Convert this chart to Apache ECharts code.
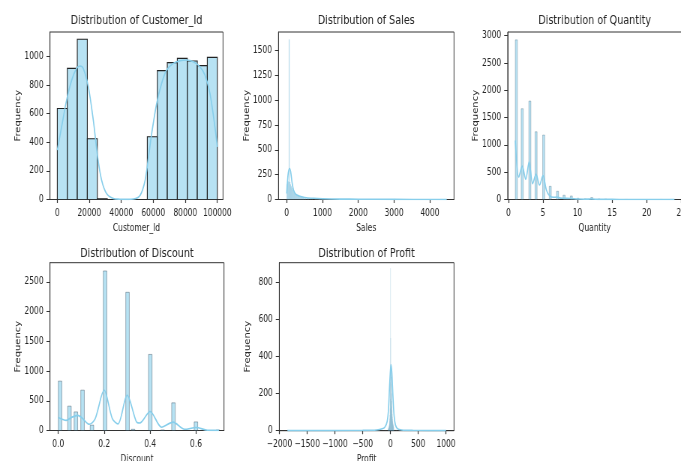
<!DOCTYPE html>
<html>
<head>
<meta charset="utf-8">
<script src="https://cdn.jsdelivr.net/npm/echarts@6/dist/echarts.min.js"></script>
<style>
  html, body { margin: 0; padding: 0; background: #fff; overflow: hidden; }
  #frame { width: 681px; height: 461px; overflow: hidden; position: relative; }
  #chart { height: 461px; transform-origin: 0 0; position: absolute; left: 0; top: 0; }
</style>
</head>
<body>
<div id="frame"><div id="chart"></div></div>
<script>
// ---- Customer_Id ----
const custBinWidth = 6250;
const custBinStart = [0, 6250, 12500, 18750, 25000, 31250, 37500, 43750, 50000, 56250, 62500, 68750, 75000, 81250, 87500, 93750];
const custCounts = [636, 916, 1119, 424, 5, 0, 0, 0, 0, 438, 900, 956, 986, 967, 935, 993];
const custKdeX = [0, 2700, 5800, 9000, 12100, 14200, 16200, 19400, 22500, 25200, 27700, 30800, 35000, 39000, 44000, 47600, 51800, 54900, 57000, 59000, 62100, 65200, 68300, 72500, 76700, 80800, 85000, 89200, 92300, 95400, 98500, 100000];
const custKdeY = [345, 508, 694, 834, 916, 932, 916, 787, 554, 298, 135, 42, 7, 2, 1, 3, 30, 135, 298, 462, 671, 811, 904, 951, 969, 974, 962, 927, 869, 741, 508, 368];
const custXTicks = [0, 20000, 40000, 60000, 80000, 100000];
const custYTicks = [0, 200, 400, 600, 800, 1000];

// ---- Sales ----
const salesBinWidth = 20;
const salesBinStart = [0, 20, 40, 60, 80, 100, 120, 140, 160, 180, 200, 220, 240, 260, 280, 300, 320, 340, 360, 380, 400, 420, 440, 460, 480, 520, 560, 600, 650, 700, 800, 900, 1000, 1200, 1500, 2000, 2500, 3000, 3500, 4400];
const salesCounts = [150, 170, 180, 1610, 175, 150, 130, 110, 95, 82, 72, 64, 57, 51, 46, 42, 38, 35, 32, 29, 27, 25, 23, 21, 19, 17, 15, 13, 11, 9, 7, 5, 4, 3, 2, 1, 1, 1, 1, 1];
const salesKdeX = [0, 20, 45, 80, 110, 150, 190, 250, 330, 420, 550, 750, 1000, 1500, 2000, 3000, 4000, 4470];
const salesKdeY = [60, 170, 270, 312, 280, 170, 95, 55, 38, 28, 18, 12, 8, 4, 3, 1, 0.5, 0.3];
const salesXTicks = [0, 1000, 2000, 3000, 4000];
const salesYTicks = [0, 250, 500, 750, 1000, 1250, 1500];

// ---- Quantity ----
const qtyBinWidth = 0.3;
const qtyBinStart = [1.0, 1.85, 2.95, 3.85, 4.95, 5.9, 6.95, 7.9, 8.95, 9.9, 10.95, 11.9, 12.95, 13.9, 16.9, 21.95, 23.9];
const qtyCounts = [2922, 1662, 1802, 1240, 1180, 241, 150, 78, 65, 22, 12, 35, 8, 6, 1, 1, 1];
const qtyKdeX = [1, 1.5, 2, 2.5, 3, 3.5, 4, 4.5, 5, 5.5, 6, 6.5, 7, 7.5, 8, 9, 10, 11, 12, 13, 14, 16, 20, 24];
const qtyKdeY = [1080, 410, 610, 370, 690, 290, 460, 265, 440, 170, 60, 40, 45, 25, 22, 18, 8, 5, 8, 3, 2, 1, 0.5, 0.3];
const qtyXTicks = [0, 5, 10, 15, 20, 25];
const qtyYTicks = [0, 500, 1000, 1500, 2000, 2500, 3000];

// ---- Discount ----
const discBinWidth = 0.0155;
const discBinStart = [0.0, 0.041, 0.069, 0.098, 0.139, 0.196, 0.294, 0.318, 0.393, 0.447, 0.494, 0.592, 0.688];
const discCounts = [830, 409, 313, 678, 89, 2682, 2323, 20, 1279, 10, 465, 145, 8];
const discKdeX = [0, 0.02, 0.035, 0.06, 0.085, 0.105, 0.135, 0.16, 0.2, 0.235, 0.26, 0.3, 0.34, 0.355, 0.4, 0.45, 0.5, 0.55, 0.6, 0.65, 0.7];
const discKdeY = [220, 185, 170, 225, 255, 205, 105, 190, 680, 205, 110, 595, 150, 125, 320, 55, 140, 20, 50, 5, 2];
const discXTicks = [0, 0.2, 0.4, 0.6];
const discYTicks = [0, 500, 1000, 1500, 2000, 2500];

// ---- Profit ----
const profitBinWidth = 3;
const profitBinStart = [-1857, -300, -100, -45, -42, -39, -36, -33, -30, -27, -24, -21, -18, -15, -12, -9, -6, -3, 0, 3, 6, 9, 12, 15, 18, 21, 24, 27, 30, 33, 36, 39, 42, 45, 48, 51, 54, 57, 80, 100, 150, 300, 998];
const profitCounts = [1, 1, 3, 8, 10, 12, 14, 17, 20, 25, 30, 38, 50, 65, 85, 120, 170, 260, 876, 500, 360, 330, 290, 250, 200, 160, 130, 110, 90, 75, 62, 52, 44, 38, 32, 28, 24, 20, 10, 6, 3, 1, 1];
const profitKdeX = [-1857, -1000, -500, -250, -150, -100, -60, -35, -15, 0, 10, 25, 45, 65, 90, 130, 200, 400, 700, 1001];
const profitKdeY = [0.2, 0.5, 1.5, 4, 10, 20, 50, 120, 250, 330, 355, 310, 180, 80, 30, 10, 4, 1.5, 0.6, 0.3];
const profitXTicks = [-2000, -1500, -1000, -500, 0, 500, 1000];
const profitYTicks = [0, 200, 400, 600, 800];

// The figure is laid out on a wider canvas and narrowed horizontally.
const SX = 0.75;
const FULL_W = 681 / SX;
const px = v => v / SX;

const FONT = "'DejaVu Sans', sans-serif";
const INK = '#262626';
const KDE_COLOR = '#87CEEB';
const BAR_FILL = 'rgba(135,206,235,0.6)';

const panels = [
  { title: 'Distribution of Customer_Id', xName: 'Customer_Id',
    box: [50, 32, 173, 167.5], titleOffset: 18,
    xMin: -4560, xMax: 103560, yMax: 1170,
    binStart: custBinStart, binWidth: custBinWidth, counts: custCounts,
    kdeX: custKdeX, kdeY: custKdeY, xTicks: custXTicks, yTicks: custYTicks,
    edge: '#222', edgeWidth: 1.1, fmt: v => String(v) },
  { title: 'Distribution of Sales', xName: 'Sales',
    box: [278.5, 32, 175.5, 167.5], titleOffset: 18,
    xMin: -229, xMax: 4673, yMax: 1686,
    binStart: salesBinStart, binWidth: salesBinWidth, counts: salesCounts,
    kdeX: salesKdeX, kdeY: salesKdeY, xTicks: salesXTicks, yTicks: salesYTicks,
    edge: 'rgba(90,140,170,0.3)', edgeWidth: 0.3, fmt: v => String(v) },
  { title: 'Distribution of Quantity', xName: 'Quantity',
    box: [507.7, 32, 174, 167.5], titleOffset: 18,
    xMin: -0.1, xMax: 25.05, yMax: 3066,
    binStart: qtyBinStart, binWidth: qtyBinWidth, counts: qtyCounts,
    kdeX: qtyKdeX, kdeY: qtyKdeY, xTicks: qtyXTicks, yTicks: qtyYTicks,
    edge: 'rgba(60,90,110,0.5)', edgeWidth: 0.6, fmt: v => String(v) },
  { title: 'Distribution of Discount', xName: 'Discount',
    box: [50, 262.7, 174, 167.8], titleOffset: 16,
    xMin: -0.036, xMax: 0.722, yMax: 2821,
    binStart: discBinStart, binWidth: discBinWidth, counts: discCounts,
    kdeX: discKdeX, kdeY: discKdeY, xTicks: discXTicks, yTicks: discYTicks,
    edge: 'rgba(40,60,80,0.55)', edgeWidth: 0.7, fmt: v => v.toFixed(1) },
  { title: 'Distribution of Profit', xName: 'Profit',
    box: [279.3, 262.7, 174.7, 168], titleOffset: 16,
    xMin: -2003, xMax: 1144, yMax: 906,
    binStart: profitBinStart, binWidth: profitBinWidth, counts: profitCounts,
    kdeX: profitKdeX, kdeY: profitKdeY, xTicks: profitXTicks, yTicks: profitYTicks,
    edge: 'rgba(90,140,170,0.2)', edgeWidth: 0.3, fmt: v => String(v).replace('-', '\u2212') }
];

const grids = [], xAxes = [], yAxes = [], series = [], titles = [];

panels.forEach((p, i) => {
  const [l, t, w, h] = p.box;
  grids.push({ left: px(l), top: t, width: px(w), height: h, show: true,
    outerBoundsMode: 'none', containLabel: false,
    borderColor: '#333', borderWidth: 1, backgroundColor: 'transparent' });
  titles.push({
    text: p.title, left: px(l + w / 2), top: t - p.titleOffset, textAlign: 'center', padding: 0,
    textStyle: { fontFamily: FONT, fontSize: 12.8, fontWeight: 'normal', color: INK }
  });
  xAxes.push({
    type: 'value', gridIndex: i, min: p.xMin, max: p.xMax,
    axisLine: { show: true, onZero: false, lineStyle: { color: '#333' } },
    axisTick: { show: true, customValues: p.xTicks, length: 3.5, lineStyle: { color: '#333', width: 1.2 } },
    axisLabel: { customValues: p.xTicks, formatter: p.fmt, fontFamily: FONT, fontSize: 10,
      color: INK, margin: 9, hideOverlap: false },
    splitLine: { show: false },
    name: p.xName, nameLocation: 'middle', nameGap: 24, nameMoveOverlap: false,
    nameTextStyle: { fontFamily: FONT, fontSize: 10, color: INK }
  });
  yAxes.push({
    type: 'value', gridIndex: i, min: 0, max: p.yMax,
    axisLine: { show: true, onZero: false, lineStyle: { color: '#333' } },
    axisTick: { show: true, customValues: p.yTicks, length: px(3.5), lineStyle: { color: '#333', width: 1 } },
    axisLabel: { customValues: p.yTicks, formatter: v => String(v), fontFamily: FONT, fontSize: 10,
      color: INK, margin: px(6.5), hideOverlap: false },
    splitLine: { show: false },
    name: 'Frequency', nameLocation: 'middle', nameRotate: 90, nameGap: px(28), nameMoveOverlap: false,
    nameTextStyle: { fontFamily: FONT, fontSize: 10, color: INK }
  });
  const bins = p.binStart.map((s, k) => [s, s + p.binWidth, p.counts[k]]);
  series.push({
    type: 'custom', xAxisIndex: i, yAxisIndex: i, clip: true, silent: true,
    data: bins,
    encode: { x: [0, 1], y: 2 },
    renderItem: (params, api) => {
      const a = api.coord([api.value(0), api.value(2)]);
      const b = api.coord([api.value(1), 0]);
      return {
        type: 'rect',
        shape: { x: a[0], y: a[1], width: b[0] - a[0], height: b[1] - a[1] },
        style: { fill: BAR_FILL, stroke: p.edge, lineWidth: p.edgeWidth }
      };
    }
  });
  series.push({
    type: 'line', xAxisIndex: i, yAxisIndex: i, clip: true, silent: true,
    data: p.kdeX.map((x, k) => [x, p.kdeY[k]]),
    showSymbol: false, smooth: 0.3, z: 5,
    lineStyle: { color: KDE_COLOR, width: 1.6 }
  });
});

const el = document.getElementById('chart');
el.style.width = FULL_W + 'px';
el.style.transform = 'scaleX(' + SX + ')';
const chart = echarts.init(el, null, { renderer: 'canvas' });
chart.setOption({
  animation: false,
  backgroundColor: '#fff',
  title: titles,
  grid: grids,
  xAxis: xAxes,
  yAxis: yAxes,
  series: series
});
</script>
</body>
</html>
